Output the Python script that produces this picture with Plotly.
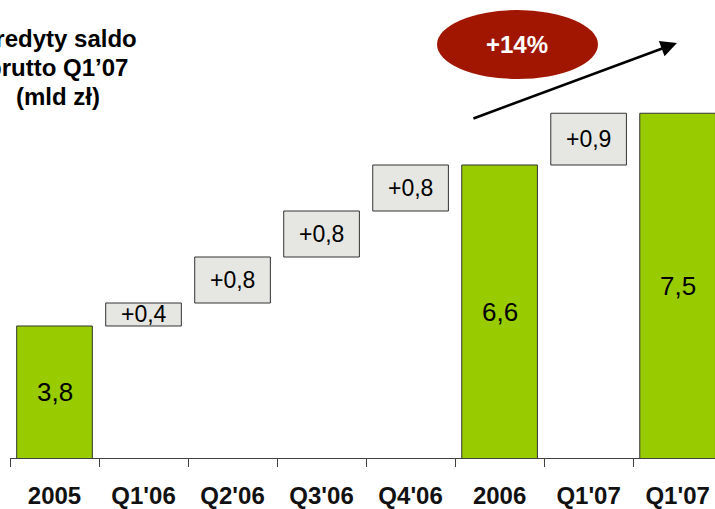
import plotly.graph_objects as go

# ---- data ----
cat_keys = ["2005", "Q1'06", "Q2'06", "Q3'06", "Q4'06", "2006", "Q1'07 d", "Q1'07"]
tick_labels = ["2005", "Q1'06", "Q2'06", "Q3'06", "Q4'06", "2006", "Q1'07", "Q1'07"]

total_cats = ["2005", "2006", "Q1'07"]
total_vals = [3.8, 6.6, 7.5]
total_text = ["3,8", "6,6", "7,5"]

delta_cats = ["Q1'06", "Q2'06", "Q3'06", "Q4'06", "Q1'07 d"]
delta_vals = [0.4, 0.8, 0.8, 0.8, 0.9]
delta_text = ["+0,4", "+0,8", "+0,8", "+0,8", "+0,9"]

growth_text = "+14%"
title_lines = ["Kredyty saldo", "brutto Q1\u201907", "(mld zł)"]

# ---- styling ----
FONT = "Liberation Sans, Arial, sans-serif"
GREEN = "#99CC00"
GREY = "#E6E6E2"
EDGE = "#333333"
RED = "#A01600"
Y_RANGE = [1.504, 9.47]
X_RANGE = [-0.5, 7.42]

# cumulative bases for the increment boxes
delta_base = []
running = total_vals[0]
for d in delta_vals:
    delta_base.append(running)
    running = round(running + d, 4)

fig = go.Figure()
fig.add_trace(go.Bar(
    x=total_cats, y=total_vals, base=[0] * len(total_vals), width=0.85,
    marker=dict(color=GREEN, line=dict(color=EDGE, width=1)),
    hoverinfo="skip", showlegend=False,
))
fig.add_trace(go.Bar(
    x=delta_cats, y=delta_vals, base=delta_base, width=0.85,
    marker=dict(color=GREY, line=dict(color=EDGE, width=1)),
    hoverinfo="skip", showlegend=False,
))

annotations = []
for c, v, t in zip(total_cats, total_vals, total_text):
    annotations.append(dict(
        x=cat_keys.index(c), y=(max(0, Y_RANGE[0]) + v) / 2, xref="x", yref="y", text=t,
        showarrow=False, font=dict(family=FONT, size=26, color="#000000"),
        xanchor="center", yanchor="middle",
    ))
for c, b, d, t in zip(delta_cats, delta_base, delta_vals, delta_text):
    annotations.append(dict(
        x=cat_keys.index(c), y=b + d / 2, xref="x", yref="y", text=t,
        showarrow=False, font=dict(family=FONT, size=23, color="#000000"),
        xanchor="center", yanchor="middle",
    ))

# title (cut at left edge like the reference)
title_y = [0.915, 0.852, 0.789]
for line, yy in zip(title_lines, title_y):
    annotations.append(dict(
        x=0.068, y=yy, xref="paper", yref="paper", text=line,
        showarrow=False, font=dict(family=FONT, size=24, color="#000000", weight="bold"),
        xanchor="center", yanchor="middle",
    ))

# growth bubble text
annotations.append(dict(
    x=0.7195, y=0.902, xref="paper", yref="paper", text=growth_text,
    showarrow=False, font=dict(family=FONT, size=24, color="#FFFFFF", weight="bold"),
    xanchor="center", yanchor="middle",
))
# arrow
annotations.append(dict(
    x=0.946, y=0.906, xref="paper", yref="paper", text="",
    showarrow=True, ax=-205, ay=76, axref="pixel", ayref="pixel",
    arrowhead=2, arrowsize=1.3, arrowwidth=2.5, arrowcolor="#000000",
    standoff=0, startstandoff=0,
))

fig.update_layout(
    width=715, height=509,
    margin=dict(l=10, r=0, t=0, b=51, autoexpand=False),
    paper_bgcolor="white", plot_bgcolor="white",
    bargap=0.15,
    annotations=annotations,
    shapes=[dict(
        type="circle", xref="paper", yref="paper",
        x0=0.6057, x1=0.834, y0=0.8275, y1=0.978,
        fillcolor=RED, line=dict(width=0), layer="above",
    )],
    xaxis=dict(
        type="category", categoryorder="array", categoryarray=cat_keys,
        tickmode="array", tickvals=cat_keys, ticktext=tick_labels,
        tickson="boundaries", ticks="outside", ticklen=8, tickcolor="#404040",
        showline=True, linecolor="#404040", linewidth=1,
        showgrid=False, zeroline=False, range=X_RANGE, automargin=False,
        tickfont=dict(family=FONT, size=24, color="#111111", weight="bold"),
        ticklabelstandoff=16,
    ),
    yaxis=dict(
        range=Y_RANGE, visible=False, showgrid=False, zeroline=False,
    ),
)

fig.write_html(
    "out.html",
    config={"displayModeBar": False},
    post_script="document.body.style.margin='0px';document.body.style.overflow='hidden';",
)
